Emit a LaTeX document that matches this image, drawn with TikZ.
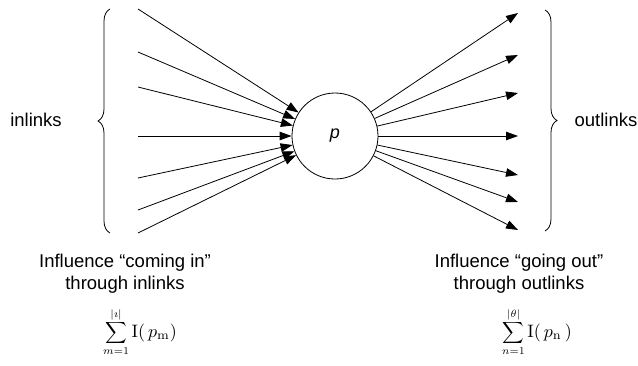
\documentclass[tikz,border=0pt]{standalone}
\usepackage[no-math]{fontspec}
\setmainfont{Liberation Sans}
\usetikzlibrary{arrows.meta,decorations.pathreplacing}
\begin{document}
\begin{tikzpicture}[x=1pt,y=-1pt,
  arr/.style={line width=0.8pt,-{Triangle[length=12pt,width=8.5pt]}},
  brc/.style={line width=0.8pt,decorate,decoration={brace,amplitude=12pt}},
  lbl/.style={font=\fontsize{18.5}{22}\selectfont,align=center,inner sep=0pt},
  mth/.style={inner sep=0pt}]
\useasboundingbox (0,0) rectangle (638,365);
\node[circle,draw,line width=0.8pt,minimum size=86pt,inner sep=0pt] (p) at (335,136) {\fontsize{18}{20}\selectfont\textit{p}};
% inlink sources
\coordinate (i1) at (138,9);
\coordinate (i2) at (138,52);
\coordinate (i3) at (138,87);
\coordinate (i4) at (138,136);
\coordinate (i5) at (138,178);
\coordinate (i6) at (138,210);
\coordinate (i7) at (138,233);
% outlink targets
\coordinate (o1) at (518,13);
\coordinate (o2) at (518,55);
\coordinate (o3) at (518,93);
\coordinate (o4) at (518,136);
\coordinate (o5) at (518,175);
\coordinate (o6) at (518,202);
\coordinate (o7) at (518,230);
\foreach \k in {1,...,7} {
  \draw[arr] (i\k) -- (p);
  \draw[arr] (p) -- (o\k);
}
% braces
\coordinate (lb1) at (110,233);
\coordinate (lb2) at (110,9);
\coordinate (rb1) at (545,10);
\coordinate (rb2) at (545,231);
\draw[brc] (lb1) -- (lb2);
\draw[brc] (rb1) -- (rb2);
\node[lbl] (inl) at (36,120) {inlinks};
\node[lbl] (outl) at (606,120) {outlinks};
% bottom captions
\node[lbl] (cin) at (125,274) {Influence “coming in”\\through inlinks};
\node[lbl] (cout) at (519,274) {Influence “going out”\\through outlinks};
\node[mth] (sin) at (140,332) {\scalebox{1.5}{$\displaystyle\sum_{m=1}^{|\imath|}\scalebox{1.2}{$\mathrm{I}(\,p_{\mathrm{m}})$}$}};
\node[mth] (sout) at (537,332) {\scalebox{1.5}{$\displaystyle\sum_{n=1}^{|\theta|}\scalebox{1.2}{$\mathrm{I}(\,p_{\mathrm{n}}\,)$}$}};
\end{tikzpicture}
\end{document}
